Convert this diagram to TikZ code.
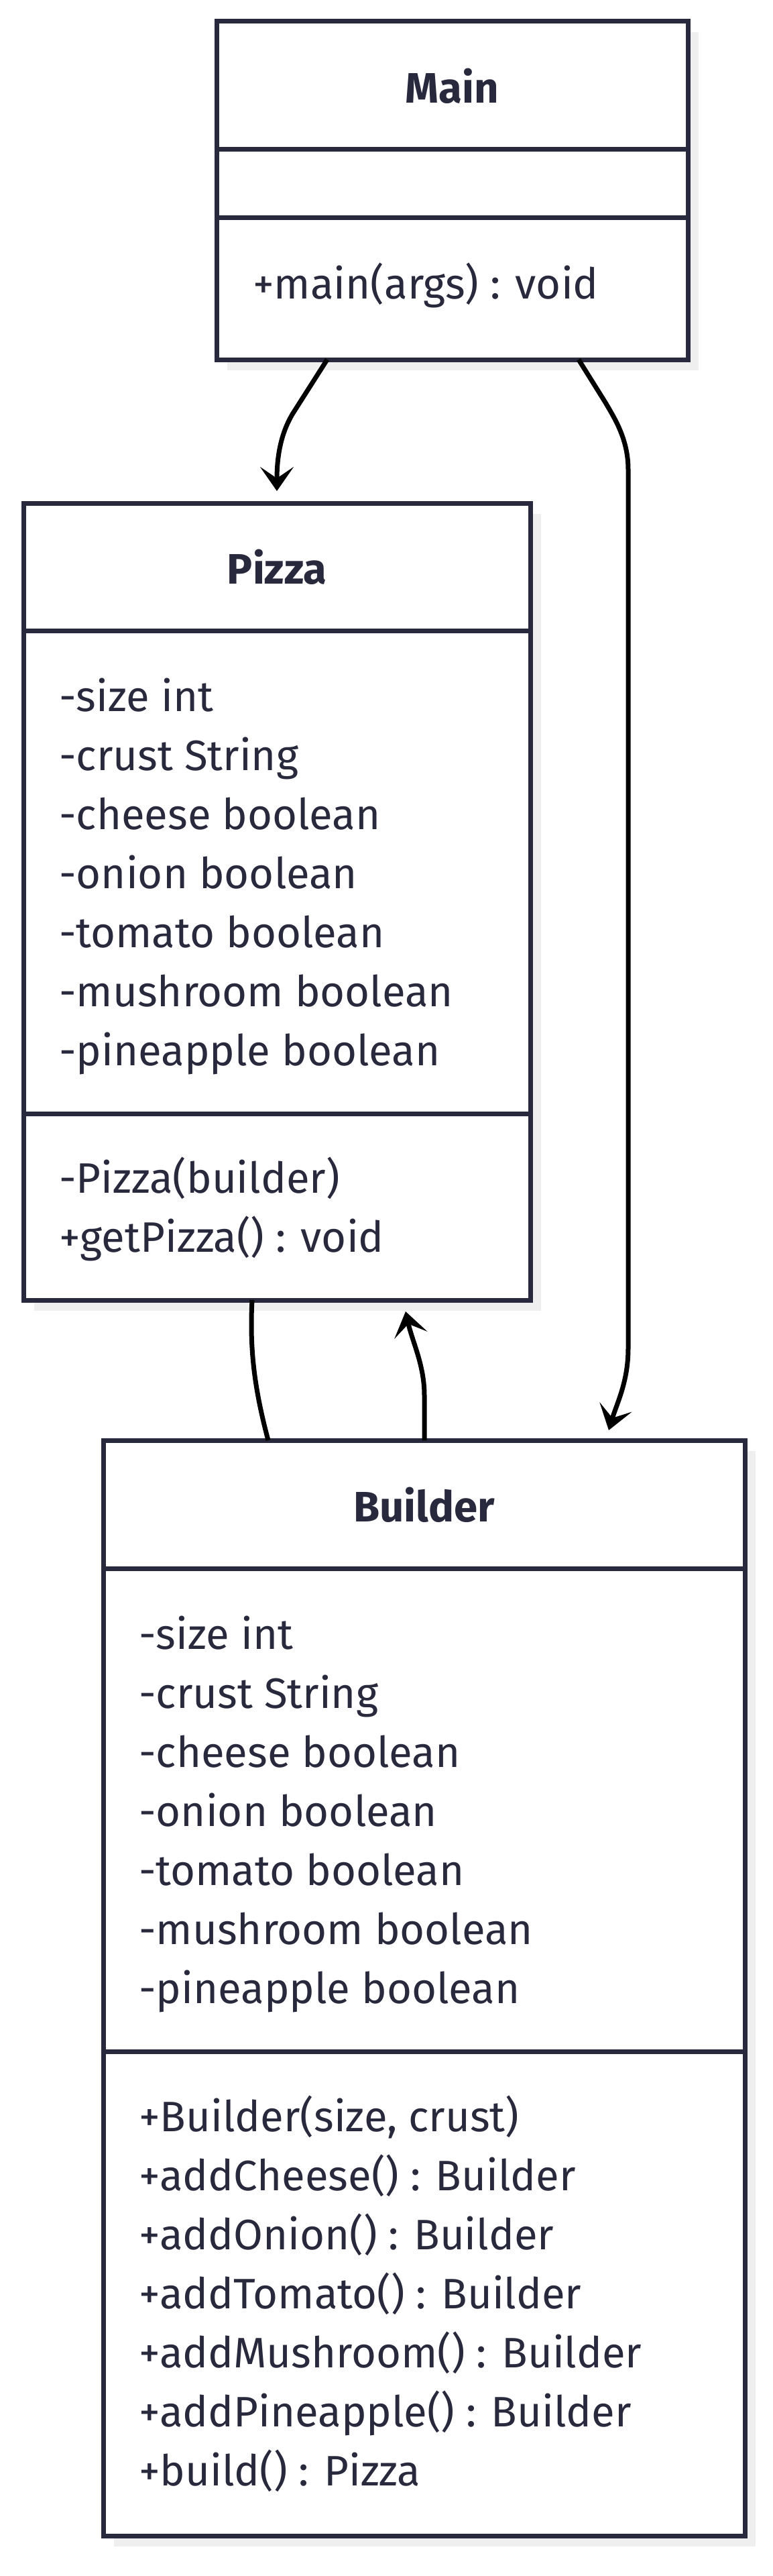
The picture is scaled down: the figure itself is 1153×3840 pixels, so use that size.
\documentclass[tikz,border=0pt]{standalone}
\usepackage{fontspec}
\setmainfont{Fira Sans}
\usetikzlibrary{arrows.meta,backgrounds}
\definecolor{umlInk}   {RGB}{41, 41, 62}
\definecolor{umlShadow}{RGB}{239,239,239}
\tikzset{
  classbox/.style={draw=umlInk,line width=7pt,fill=white,inner sep=0pt,
                   outer sep=0pt,anchor=north west},
  divider/.style={draw=umlInk,line width=7pt},
  classname/.style={font=\fontsize{63.5}{76}\selectfont\bfseries,text=umlInk,
                    anchor=base,inner sep=0pt},
  member/.style={font=\fontsize{63.5}{76}\selectfont,text=umlInk,
                 anchor=base west,inner sep=0pt},
  link/.style={draw=black,line width=7pt},
  arrowlink/.style={link,-{Stealth[length=36pt,width=50pt,inset=17pt]}},
}
\begin{document}
\begin{tikzpicture}[x=1pt,y=1pt]
  \useasboundingbox (0,0) rectangle (1153,-3840);

  % class boxes
  \node[classbox,minimum width=703pt,minimum height=504pt]  (main)    at (323,-32)   {};
  \node[classbox,minimum width=756pt,minimum height=1188pt] (pizza)   at (35,-750)   {};
  \node[classbox,minimum width=957pt,minimum height=1633pt] (builder) at (154,-2147) {};

  \begin{scope}[on background layer]
    \foreach \cls in {main,pizza,builder}{
      \fill[umlShadow] ([shift={(16pt,-16pt)}]\cls.north west)
        rectangle ([shift={(16pt,-16pt)}]\cls.south east);
    }
  \end{scope}

  % compartments
  \foreach \cls/\a/\b in {main/191/292, pizza/190/910, builder/191/911}{
    \draw[divider] ([yshift=-\a pt]\cls.north west) -- ([yshift=-\a pt]\cls.north east);
    \draw[divider] ([yshift=-\b pt]\cls.north west) -- ([yshift=-\b pt]\cls.north east);
  }

  % Main
  \node[classname] (mainName) at ([yshift=-122pt]main.north) {Main};
  \node[member] (mainOp) at ([xshift=54pt,yshift=-413pt]main.north west) {+main(args) : void};

  % Pizza
  \node[classname] (pizzaName) at ([yshift=-120pt]pizza.north) {Pizza};
  \foreach \txt [count=\i from 0] in {-size int, -crust String, -cheese boolean,
      -onion boolean, -tomato boolean, -mushroom boolean, -pineapple boolean}{
    \node[member] (pizzaAttr\i) at ([xshift=53pt,yshift={-310pt-88pt*\i}]pizza.north west) {\txt};
  }
  \foreach \txt [count=\i from 0] in {-Pizza(builder), +getPizza() : void}{
    \node[member] (pizzaOp\i) at ([xshift=53pt,yshift={-1028pt-88pt*\i}]pizza.north west) {\txt};
  }

  % Builder
  \node[classname] (builderName) at ([yshift=-121pt]builder.north) {Builder};
  \foreach \txt [count=\i from 0] in {-size int, -crust String, -cheese boolean,
      -onion boolean, -tomato boolean, -mushroom boolean, -pineapple boolean}{
    \node[member] (builderAttr\i) at ([xshift=53pt,yshift={-311pt-88pt*\i}]builder.north west) {\txt};
  }
  \foreach \txt [count=\i from 0] in {{+Builder(size, crust)}, +addCheese() : Builder,
      +addOnion() : Builder, +addTomato() : Builder, +addMushroom() : Builder,
      +addPineapple() : Builder, +build() : Pizza}{
    \node[member] (builderOp\i) at ([xshift=53pt,yshift={-1030pt-88pt*\i}]builder.north west) {\txt};
  }

  % relations
  \draw[arrowlink] ([xshift=165pt]main.south west) -- ++(-51,-80)
    .. controls +(-17,-28) and +(0,55) .. ([xshift=378pt,yshift=18pt]pizza.north west);
  \draw[arrowlink] ([xshift=540pt]main.south west) -- ++(40,-64)
    .. controls +(14,-24) and +(0,45) .. ++(34,-100) -- ++(0,-1310)
    .. controls +(0,-50) and +(12,40) .. ([xshift=754pt,yshift=15pt]builder.north west);
  \draw[link] ([xshift=341pt]pizza.south west)
    .. controls +(-4,-75) and +(-20,75) .. ([xshift=246pt]builder.north west);
  \draw[arrowlink] ([xshift=479pt]builder.north west) -- ++(0,67)
    .. controls +(0,45) and +(10,-45) .. ([xshift=570pt,yshift=-17pt]pizza.south west);
\end{tikzpicture}
\end{document}
